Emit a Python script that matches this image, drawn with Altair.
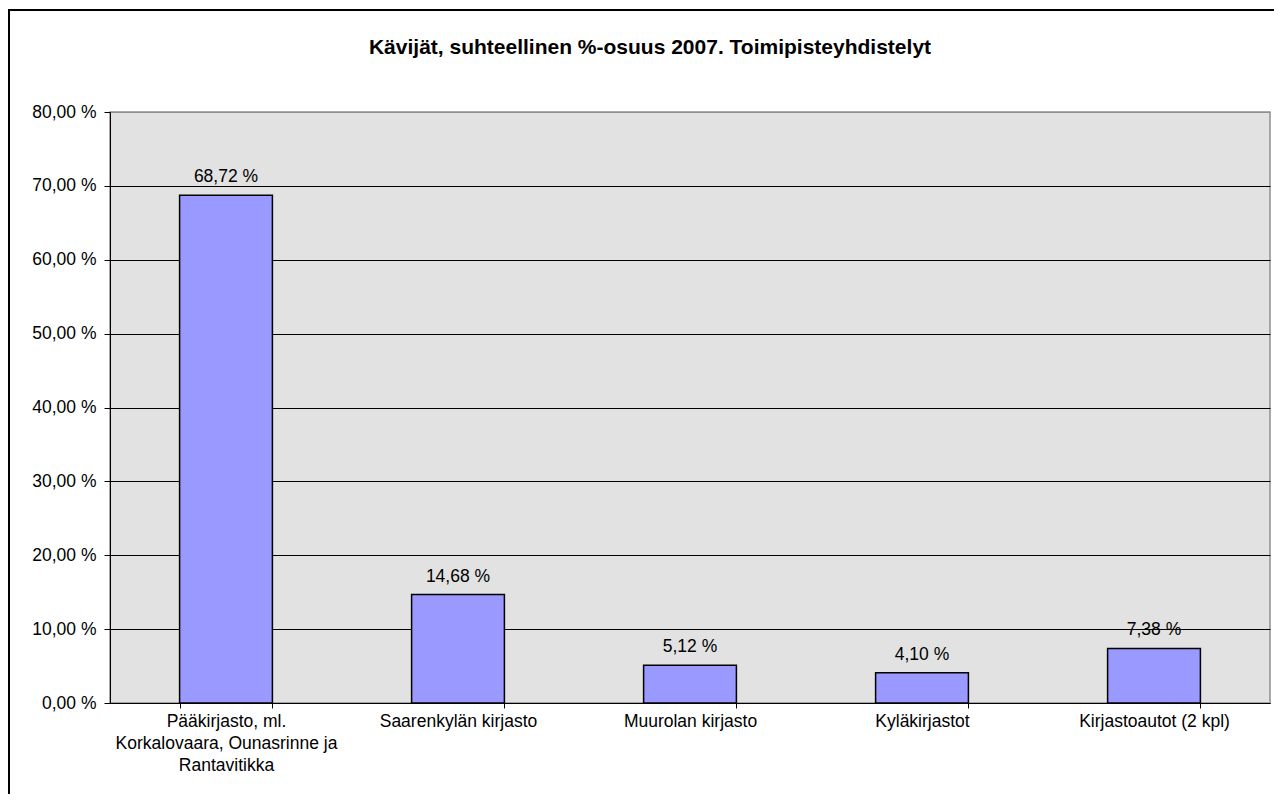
import altair as alt
import pandas as pd

categories = [
    "Pääkirjasto, ml.\nKorkalovaara, Ounasrinne ja\nRantavitikka",
    "Saarenkylän kirjasto",
    "Muurolan kirjasto",
    "Kyläkirjastot",
    "Kirjastoautot (2 kpl)",
]
values = [68.72, 14.68, 5.12, 4.10, 7.38]
y_ticks = [0, 10, 20, 30, 40, 50, 60, 70, 80]
title_text = "Kävijät, suhteellinen %-osuus 2007. Toimipisteyhdistelyt"

df = pd.DataFrame({"cat": categories, "v": values})

FONT = "Liberation Sans"
W, H = 1160, 591

x_enc = alt.X(
    "cat:N",
    sort=categories,
    scale=alt.Scale(paddingInner=0.6, paddingOuter=0.3),
    axis=alt.Axis(
        title=None,
        labelAngle=0,
        tickBand="extent",
        labelExpr="split(datum.label, '\\n')",
        labelFont=FONT,
        labelFontSize=17.5,
        labelColor="black",
        labelLineHeight=22,
        labelPadding=4,
        labelLimit=0,
        tickColor="black",
        tickSize=5,
        domainColor="black",
        grid=False,
    ),
)
y_enc = alt.Y(
    "v:Q",
    scale=alt.Scale(domain=[0, 80], nice=False),
    axis=alt.Axis(
        title=None,
        values=y_ticks,
        labelExpr="replace(format(datum.value, '.2f'), '.', ',') + ' %'",
        labelFont=FONT,
        labelFontSize=17.5,
        labelColor="black",
        labelPadding=8,
        tickColor="black",
        tickSize=6,
        domainColor="black",
        grid=True,
        gridColor={"condition": {"test": "datum.value == 80", "value": "#909090"}, "value": "black"},
        gridOpacity=1,
        gridWidth=1,
    ),
)

base = alt.Chart(df)

bars = base.mark_bar(color="#9999ff", stroke="black", strokeWidth=1.5).encode(x=x_enc, y=y_enc)

labels = base.transform_calculate(
    lbl="replace(format(datum.v, '.2f'), '.', ',') + ' %'"
).mark_text(
    font=FONT, fontSize=17.5, color="black", baseline="alphabetic", dy=-13
).encode(x=alt.X("cat:N", sort=categories), y=alt.Y("v:Q"), text="lbl:N")

one = pd.DataFrame({"t": [title_text]})
title = alt.Chart(one).mark_text(
    font=FONT, fontSize=21, fontWeight="bold", color="black", align="center", baseline="alphabetic"
).encode(text="t:N", x=alt.value(540), y=alt.value(-58))

frame_left = alt.Chart(one).mark_rule(color="black", strokeWidth=2).encode(
    x=alt.value(-101), y=alt.value(-102), y2=alt.value(700)
)
frame_top = alt.Chart(one).mark_rule(color="black", strokeWidth=2).encode(
    x=alt.value(-102), x2=alt.value(1170), y=alt.value(-102)
)

chart = (
    alt.layer(bars, labels, title, frame_left, frame_top)
    .properties(
        width=W,
        height=H,
        autosize=alt.AutoSizeParams(type="none"),
        padding={"left": 102, "top": 104, "right": 4, "bottom": 91},
        background="white",
    )
    .configure_view(fill="#e2e2e2", stroke="#909090", strokeWidth=1.5)
)

chart.save("out.html", embed_options={"renderer": "svg", "actions": False})
